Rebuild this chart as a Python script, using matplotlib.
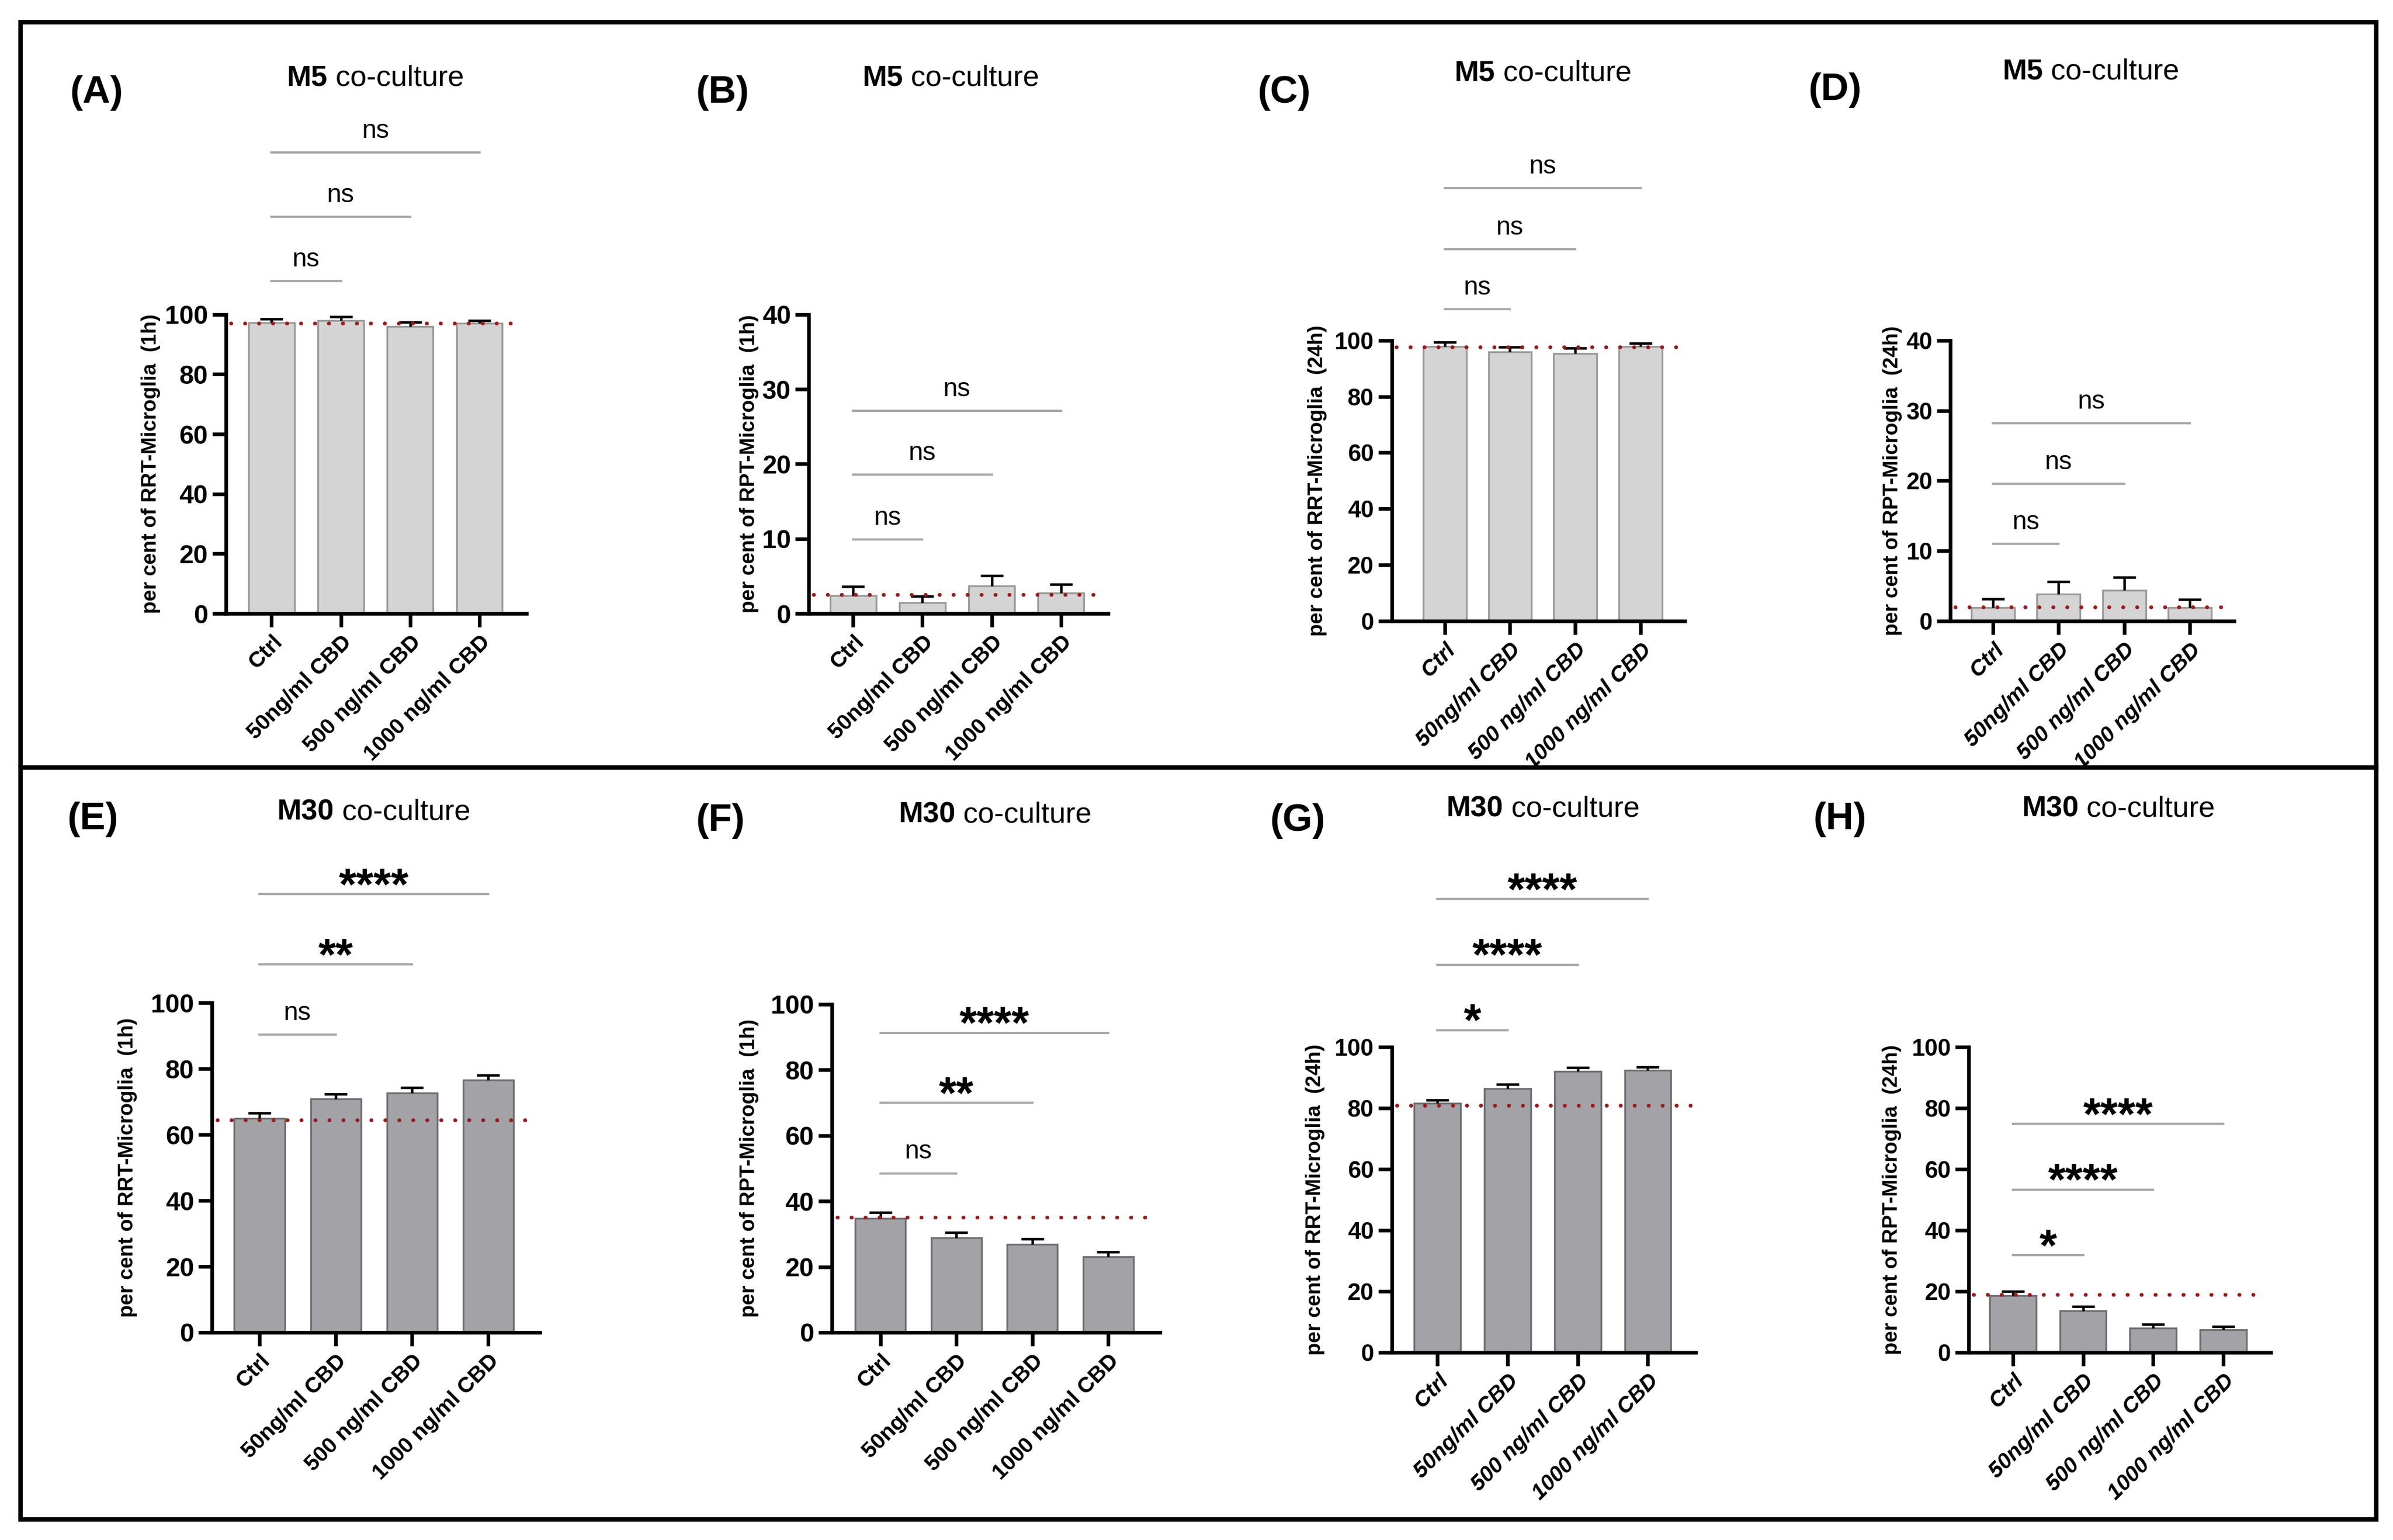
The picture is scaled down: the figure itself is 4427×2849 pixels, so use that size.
import numpy as np
import matplotlib
matplotlib.use("Agg")
import matplotlib.pyplot as plt
from matplotlib.lines import Line2D
from matplotlib.patches import Rectangle
from matplotlib.offsetbox import TextArea, HPacker, AnnotationBbox

plt.rcParams['font.family'] = ['Liberation Sans', 'DejaVu Sans']

# ---------------------------------------------------------------- data
groups = ["Ctrl", "50ng/ml CBD", "500 ng/ml CBD", "1000 ng/ml CBD"]

# bar means (per cent) and upper SEM
rrt_m5_1h = [97.2, 98.0, 95.9, 97.0]
rrt_m5_1h_err = [1.3, 1.2, 1.5, 1.0]
rpt_m5_1h = [2.4, 1.45, 3.7, 2.75]
rpt_m5_1h_err = [1.2, 0.85, 1.35, 1.15]
rrt_m5_24h = [97.9, 95.8, 95.3, 97.9]
rrt_m5_24h_err = [1.4, 1.8, 1.9, 1.1]
rpt_m5_24h = [1.95, 3.9, 4.4, 1.95]
rpt_m5_24h_err = [1.25, 1.7, 1.85, 1.15]

rrt_m30_1h = [65.0, 70.8, 72.6, 76.5]
rrt_m30_1h_err = [1.6, 1.5, 1.6, 1.6]
rpt_m30_1h = [34.8, 28.8, 26.9, 23.1]
rpt_m30_1h_err = [1.7, 1.7, 1.6, 1.5]
rrt_m30_24h = [81.6, 86.3, 92.1, 92.4]
rrt_m30_24h_err = [1.1, 1.4, 1.1, 1.1]
rpt_m30_24h = [18.6, 13.6, 7.9, 7.4]
rpt_m30_24h_err = [1.4, 1.4, 1.3, 1.0]

# dotted control level in each panel
ctrl_level = [97.0, 2.56, 97.6, 2.0, 64.4, 35.1, 80.8, 18.9]

# significance vs Ctrl (Ctrl-50, Ctrl-500, Ctrl-1000)
sig_A = ["ns", "ns", "ns"]
sig_B = ["ns", "ns", "ns"]
sig_C = ["ns", "ns", "ns"]
sig_D = ["ns", "ns", "ns"]
sig_E = ["ns", "**", "****"]
sig_F = ["ns", "**", "****"]
sig_G = ["*", "****", "****"]
sig_H = ["*", "****", "****"]
sig_y_A = [111.1, 132.6, 154.1]
sig_y_B = [9.9, 18.6, 27.1]
sig_y_C = [111.1, 132.5, 154.2]
sig_y_D = [11.0, 19.6, 28.2]
sig_y_E = [90.3, 111.6, 132.9]
sig_y_F = [48.5, 70.0, 91.3]
sig_y_G = [105.5, 127.0, 148.5]
sig_y_H = [31.8, 53.3, 74.8]

panel_letters = ["(A)", "(B)", "(C)", "(D)", "(E)", "(F)", "(G)", "(H)"]
culture = ["M5", "M5", "M5", "M5", "M30", "M30", "M30", "M30"]
ylabels = ["per cent of RRT-Microglia  (1h)", "per cent of RPT-Microglia  (1h)",
           "per cent of RRT-Microglia  (24h)", "per cent of RPT-Microglia  (24h)",
           "per cent of RRT-Microglia  (1h)", "per cent of RPT-Microglia  (1h)",
           "per cent of RRT-Microglia  (24h)", "per cent of RPT-Microglia  (24h)"]
ytops = [100, 40, 100, 40, 100, 100, 100, 100]
ysteps = [20, 10, 20, 10, 20, 20, 20, 20]

means = [rrt_m5_1h, rpt_m5_1h, rrt_m5_24h, rpt_m5_24h,
         rrt_m30_1h, rpt_m30_1h, rrt_m30_24h, rpt_m30_24h]
errs = [rrt_m5_1h_err, rpt_m5_1h_err, rrt_m5_24h_err, rpt_m5_24h_err,
        rrt_m30_1h_err, rpt_m30_1h_err, rrt_m30_24h_err, rpt_m30_24h_err]
sigs = [sig_A, sig_B, sig_C, sig_D, sig_E, sig_F, sig_G, sig_H]
sig_ys = [sig_y_A, sig_y_B, sig_y_C, sig_y_D, sig_y_E, sig_y_F, sig_y_G, sig_y_H]

# ---------------------------------------------------------------- layout
# positions in reference pixels of a 1568x1009 view
W, H = 1568.0, 1009.0
# axes: x_left, x_right, y_top, y_bottom, xlim left
axes_px = [(148, 345, 206, 402, -0.66), (530, 726, 206, 402, -0.64),
           (912, 1104, 223, 407, -0.81), (1278, 1464, 223, 407, -0.65),
           (139, 354, 657, 873, -0.62), (545, 760, 658, 873, -0.64),
           (912, 1111, 686, 886, -0.65), (1290, 1488, 686, 886, -0.63)]
title_px = [(246, 51), (623, 51), (1011, 48), (1370, 47),
            (245, 532), (652, 534), (1011, 530), (1388, 530)]
letter_px = [(46, 61), (456, 61), (824, 61), (1185, 59),
             (44, 537), (456, 538), (832, 538), (1188, 537)]
ylabel_x = [-0.249, -0.199, -0.255, -0.205, -0.257, -0.251, -0.252, -0.255]
italic = [False, False, True, True, False, False, True, True]

light_bar, light_edge = "#d4d4d4", "#9a9a9a"
dark_bar, dark_edge = "#a2a2a7", "#6e6e72"
red = "#9b1b1b"
sig_grey = "#a8a8a8"

fig = plt.figure(figsize=(4427 / 300, 2849 / 300), dpi=300)

x = np.arange(len(groups))
for i in range(8):
    x0, x1, yt, yb, xl = axes_px[i]
    ax = fig.add_axes([x0 / W, 1 - yb / H, (x1 - x0) / W, (yb - yt) / H])
    barc, edgec = (light_bar, light_edge) if i < 4 else (dark_bar, dark_edge)

    ax.bar(x, means[i], width=0.66, color=barc, edgecolor=edgec, linewidth=0.8, zorder=2)
    eb = ax.errorbar(x, means[i], yerr=[np.zeros(4), errs[i]], fmt='none',
                     ecolor='black', elinewidth=1.1, capsize=5, capthick=1.1, zorder=3)
    eb[1][0].set_visible(False)
    ax.plot([xl + 0.07, 3.62], [ctrl_level[i], ctrl_level[i]], color=red, lw=1.7,
            linestyle=(0, (0.05, 3.6)), dash_capstyle='round', zorder=4, clip_on=False)

    ax.set_xlim(xl, 3.68)
    ax.set_ylim(0, ytops[i])
    ax.set_yticks(np.arange(0, ytops[i] + 1, ysteps[i]))
    ax.set_xticks(x)
    ax.set_xticklabels(groups, rotation=45, ha='right', rotation_mode='anchor',
                       fontsize=9.8, fontweight='bold',
                       style='italic' if italic[i] else 'normal')
    for lab in ax.get_yticklabels():
        lab.set_fontsize(10.5 if italic[i] else 11.5)
        lab.set_fontweight('bold')
    for s in ['top', 'right']:
        ax.spines[s].set_visible(False)
    for s in ['left', 'bottom']:
        ax.spines[s].set_linewidth(1.6)
    ax.tick_params(axis='both', length=6, width=1.6, pad=2)
    ax.set_ylabel(ylabels[i], fontsize=9.2, fontweight='bold')
    ax.yaxis.set_label_coords(ylabel_x[i], 0.5)
    ax.yaxis.label.set_verticalalignment('center')

    for j, (lab, hy) in enumerate(zip(sigs[i], sig_ys[i])):
        ax.plot([0, j + 1], [hy, hy], color=sig_grey, lw=1.0, clip_on=False, zorder=1)
        stars = lab.startswith("*")
        ax.annotate(lab, xy=((j + 1) / 2, hy), xytext=(0, -2.5 if stars else 6.5),
                    textcoords='offset points', ha='center', va='baseline',
                    fontsize=20 if stars else 11.5, fontweight='bold' if stars else 'normal',
                    annotation_clip=False)

    # title with bold culture name
    tx, ty = title_px[i]
    tfs = 13
    box = HPacker(children=[
        TextArea(culture[i], textprops=dict(fontsize=tfs, fontweight='bold')),
        TextArea(" co-culture", textprops=dict(fontsize=tfs))],
        sep=0, align='baseline', pad=0)
    fig.add_artist(AnnotationBbox(box, (tx / W, 1 - ty / H), xycoords='figure fraction',
                                  box_alignment=(0.5, 0.5), frameon=False, pad=0))

    lx, ly = letter_px[i]
    fig.text(lx / W, 1 - ly / H, panel_letters[i], fontsize=17, fontweight='bold',
             ha='left', va='center')

# outer frame and divider
fig.add_artist(Rectangle((13.5 / W, 1 - 995.5 / H), (1557 - 13.5) / W, (995.5 - 14.5) / H,
                         transform=fig.transFigure, fill=False, edgecolor='black', lw=2.0))
fig.add_artist(Line2D([13.5 / W, 1557 / W], [1 - 503 / H, 1 - 503 / H],
                      transform=fig.transFigure, color='black', lw=2.0))

fig.savefig("out.png", dpi=300, facecolor='white')
